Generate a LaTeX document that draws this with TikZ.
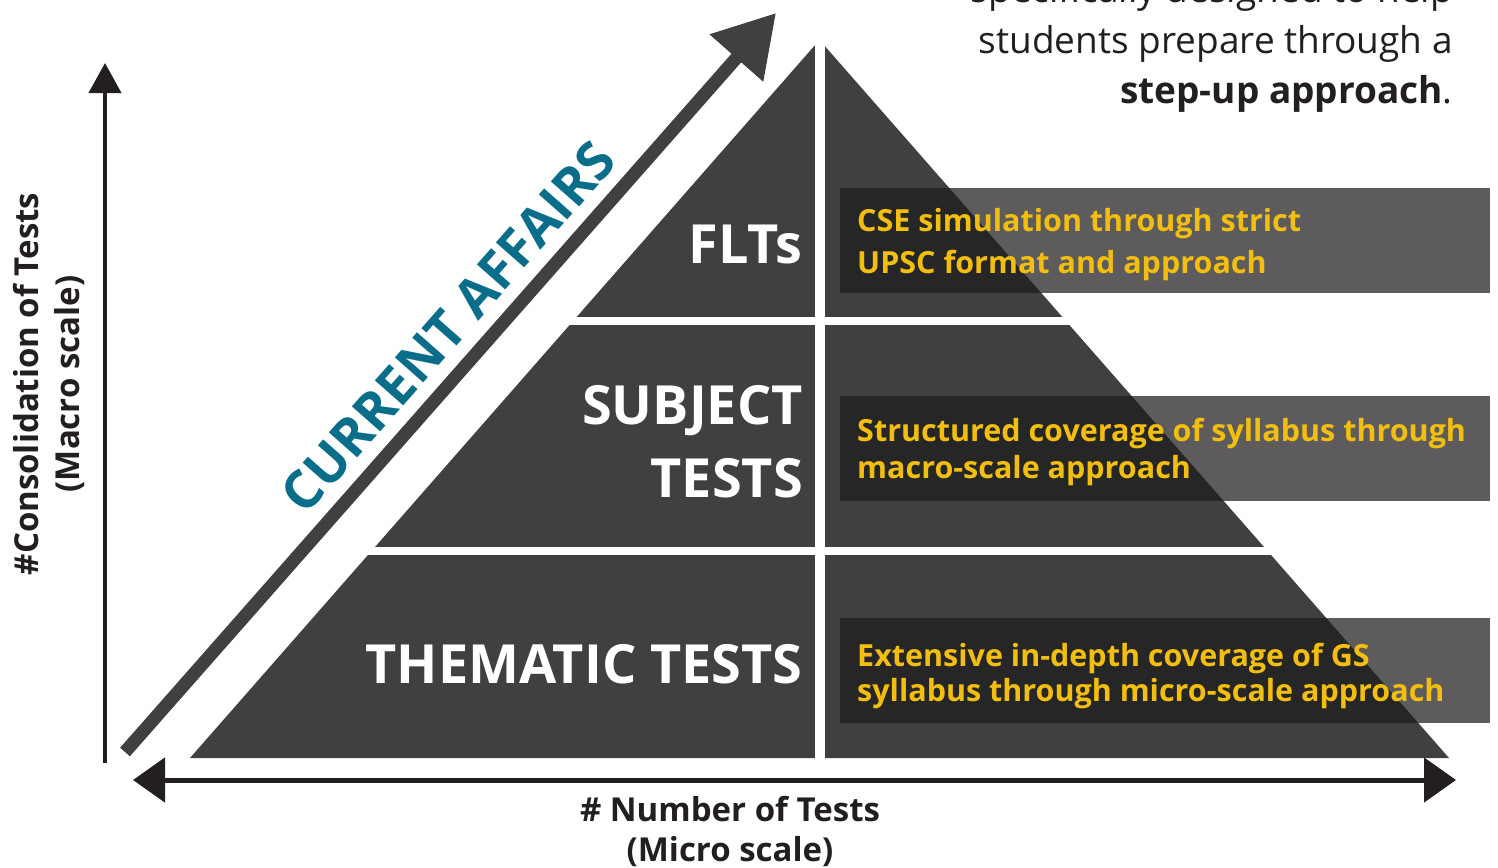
\documentclass[tikz,border=0pt]{standalone}
\usepackage{fontspec}
\setmainfont{Open Sans}
\usetikzlibrary{arrows.meta}
\definecolor{pyr}{RGB}{64,64,64}
\definecolor{axis}{RGB}{35,31,32}
\definecolor{teal}{RGB}{10,110,139}
\definecolor{gold}{RGB}{242,190,16}
\definecolor{boxc}{RGB}{30,28,29}
\definecolor{txt}{RGB}{35,31,32}
\tikzset{
  pyrtext/.style={text=white, font=\fontsize{54}{60}\selectfont\bfseries, inner sep=0pt, anchor=base east},
  infobox/.style={fill=boxc, fill opacity=0.72, draw=none},
  infotext/.style={text=gold, inner sep=0pt, anchor=base west, align=left},
  axislabel/.style={text=txt, font=\fontsize{33}{40}\selectfont\bfseries, inner sep=0pt},
  toptext/.style={text=txt, font=\fontsize{37}{50}\selectfont, inner sep=0pt, anchor=base east},
  gap/.style={draw=white}
}
\begin{document}
\begin{tikzpicture}[x=1pt,y=-1pt]
\useasboundingbox (0,0) rectangle (1498,867);
\clip (0,0) rectangle (1498,867);
% pyramid
\coordinate (apex) at (819.5,40);
\coordinate (bl) at (190,758);
\coordinate (br) at (1449,758);
\fill[pyr] (apex) -- (bl) -- (br) -- cycle;
\draw[gap, line width=10] (820,20) -- (820,770);
\draw[gap, line width=8] (560,321) -- (1080,321);
\draw[gap, line width=8] (360,551) -- (1280,551);
% current affairs arrow
\coordinate (ca1) at (125,752);
\coordinate (ca2) at (776,13);
\draw[pyr, line width=13, -{Triangle[length=60pt,width=68pt]}] (ca1) -- (ca2);
\node[text=teal, font=\fontsize{53}{58}\selectfont\bfseries, rotate=48.6, inner sep=0pt] (ca) at (448,327) {CURRENT AFFAIRS};
% pyramid labels
\node[pyrtext] (flt) at (803,263) {FLTs};
\node[pyrtext] (subj) at (803,424) {SUBJECT};
\node[pyrtext] (tests) at (803,497) {TESTS};
\node[pyrtext] (them) at (803,683) {THEMATIC TESTS};
% info boxes
\fill[infobox] (840,188) rectangle (1490,293);
\fill[infobox] (840,396) rectangle (1490,501);
\fill[infobox] (840,618) rectangle (1490,723);
\node[infotext, font=\fontsize{30.5}{42}\selectfont\bfseries] (b1) at (857,273) {CSE simulation through strict\\UPSC format and approach};
\node[infotext, font=\fontsize{30.5}{37}\selectfont\bfseries] (b2) at (857,478) {Structured coverage of syllabus through\\macro-scale approach};
\node[infotext, font=\fontsize{30.5}{35}\selectfont\bfseries] (b3) at (857,701) {Extensive in-depth coverage of GS\\syllabus through micro-scale approach};
% axes
\coordinate (v0) at (105,763);
\coordinate (v1) at (105,63);
\draw[axis, line width=4, -{Triangle[length=30pt,width=32pt]}] (v0) -- (v1);
\coordinate (h0) at (133,780);
\coordinate (h1) at (1456,780);
\draw[axis, line width=5, {Triangle[length=32pt,width=44pt]}-{Triangle[length=32pt,width=44pt]}] (h0) -- (h1);
\node[axislabel, rotate=90] (yl1) at (26,384) {\#Consolidation of Tests};
\node[axislabel, rotate=90] (yl2) at (70,384) {(Macro scale)};
\node[axislabel, anchor=base] (xl1) at (730,821) {\# Number of Tests};
\node[axislabel, anchor=base] (xl2) at (730,861) {(Micro scale)};
% top right text
\node[toptext] (t1) at (1453,3) {specifically designed to help};
\node[toptext] (t2) at (1453,53) {students prepare through a};
\node[toptext] (t3) at (1453,103) {\textbf{step-up approach}.};
\end{tikzpicture}
\end{document}
